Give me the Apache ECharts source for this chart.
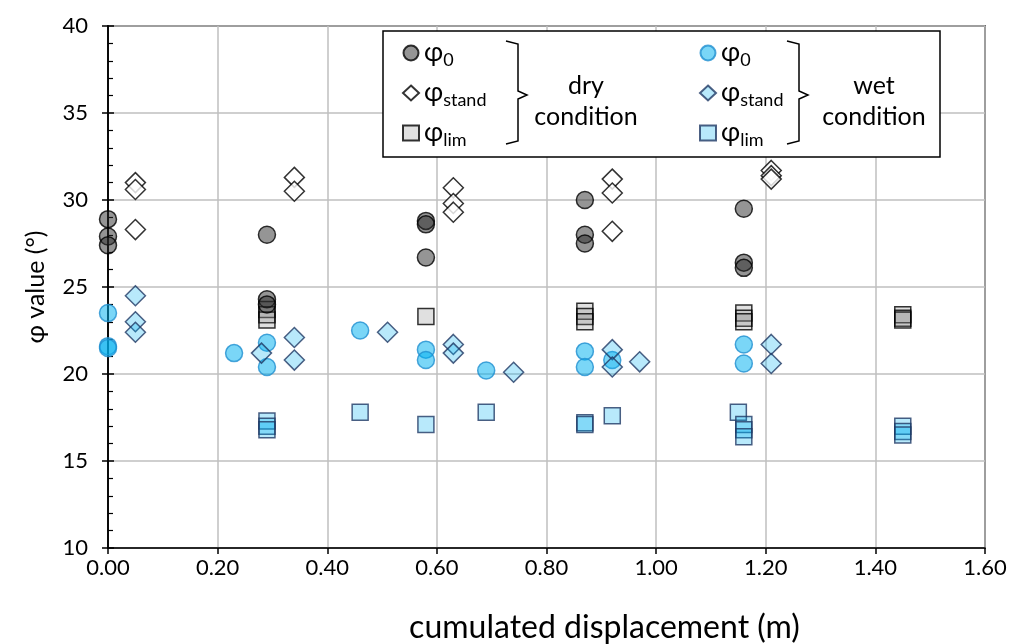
<!DOCTYPE html>
<html>
<head>
<meta charset="utf-8">
<script src="https://cdn.jsdelivr.net/npm/echarts@6/dist/echarts.min.js"></script>
<style>
  html, body { margin: 0; padding: 0; background: #fff; }
  #chart { width: 1013px; height: 644px; }
</style>
</head>
<body>
<div id="chart"></div>
<script>
// [displacement (m), φ (°)]
var dryPhi0 = [[0, 28.9], [0, 27.9], [0, 27.4], [0.29, 28.0], [0.29, 24.3], [0.29, 24.0],
  [0.58, 28.8], [0.58, 28.6], [0.58, 26.7], [0.87, 30.0], [0.87, 28.0], [0.87, 27.5],
  [1.16, 29.5], [1.16, 26.4], [1.16, 26.1]];
var dryStand = [[0.05, 31.0], [0.05, 30.6], [0.05, 28.3], [0.34, 31.3], [0.34, 30.5],
  [0.63, 30.7], [0.63, 29.8], [0.63, 29.3], [0.92, 31.2], [0.92, 30.4], [0.92, 28.2],
  [1.21, 31.7], [1.21, 31.4], [1.21, 31.2]];
var dryLim = [[0.29, 23.7], [0.29, 23.4], [0.29, 23.1], [0.58, 23.3], [0.87, 23.6],
  [0.87, 23.3], [0.87, 23.0], [1.16, 23.5], [1.16, 23.2], [1.16, 23.0], [1.45, 23.4],
  [1.45, 23.2], [1.45, 23.1]];
var wetPhi0 = [[0, 23.5], [0, 21.6], [0, 21.5], [0.23, 21.2], [0.29, 21.8], [0.29, 20.4],
  [0.46, 22.5], [0.58, 21.4], [0.58, 20.8], [0.69, 20.2], [0.87, 21.3], [0.87, 20.4],
  [0.92, 20.8], [1.16, 21.7], [1.16, 20.6]];
var wetStand = [[0.05, 24.5], [0.05, 23.0], [0.05, 22.4], [0.28, 21.2], [0.34, 22.1],
  [0.34, 20.8], [0.51, 22.4], [0.63, 21.7], [0.63, 21.2], [0.74, 20.1], [0.92, 21.4],
  [0.92, 20.4], [0.97, 20.7], [1.21, 21.7], [1.21, 20.6]];
var wetLim = [[0.29, 17.3], [0.29, 17.0], [0.29, 16.8], [0.46, 17.8], [0.58, 17.1],
  [0.69, 17.8], [0.87, 17.2], [0.87, 17.1], [0.92, 17.6], [1.15, 17.8], [1.16, 17.1],
  [1.16, 16.8], [1.16, 16.4], [1.45, 17.0], [1.45, 16.7], [1.45, 16.5]];

var subs = { dryPhi0: '0', dryStand: 'stand', dryLim: 'lim', wetPhi0: '0', wetStand: 'stand', wetLim: 'lim' };
var FONT = 'Lato, "Open Sans", sans-serif';

var myChart = echarts.init(document.getElementById('chart'));

function sc(name, data, symbol, size, fill, border, z) {
  return {
    name: name,
    type: 'scatter',
    data: data,
    symbol: symbol,
    symbolSize: size,
    z: z,
    itemStyle: { color: fill, borderColor: border, borderWidth: 1.5 }
  };
}

function legendFmt(name) {
  return '{a|φ}{b|' + subs[name] + '}';
}
var legendRich = {
  a: { fontSize: 26, fontFamily: FONT, color: '#000', lineHeight: 32, verticalAlign: 'middle' },
  b: { fontSize: 18, fontFamily: FONT, color: '#000', lineHeight: 15, verticalAlign: 'bottom' }
};

function bracket(x, y0, y1, ym, w) {
  return {
    type: 'polyline',
    shape: { points: [[x, y0], [x + w, y0 + 3], [x + w, ym - 4], [x + w + 9, ym], [x + w, ym + 4], [x + w, y1 - 3], [x, y1]] },
    style: { stroke: '#000', lineWidth: 1.5, fill: null },
    z: 20
  };
}

var option = {
  backgroundColor: '#fff',
  animation: false,
  textStyle: { fontFamily: FONT },
  grid: { left: 108, right: 28, top: 26, bottom: 96, outerBoundsMode: 'none', show: true, borderColor: '#000', borderWidth: 1.5, backgroundColor: 'transparent' },
  xAxis: [{
    type: 'value', min: 0, max: 1.6, interval: 0.2,
    name: 'cumulated displacement (m)', nameLocation: 'middle', nameGap: 64,
    nameTextStyle: { fontSize: 32, color: '#000', fontFamily: FONT, padding: [0, 0, 0, 116] },
    axisLine: { lineStyle: { color: '#000', width: 1.5 } },
    axisTick: { show: true, length: 6, lineStyle: { color: '#000', width: 1.5 } },
    axisLabel: { fontSize: 22, color: '#000', margin: 9, formatter: function (v) { return v.toFixed(2); } },
    splitLine: { show: true, lineStyle: { color: '#bfbfbf', width: 1.5 } }
  }],
  yAxis: [{
    type: 'value', min: 10, max: 40, interval: 5, position: 'left',
    name: 'φ value (°)', nameLocation: 'middle', nameGap: 60, nameRotate: 90,
    nameTextStyle: { fontSize: 25, color: '#000', fontFamily: FONT },
    axisLine: { show: true, lineStyle: { color: '#000', width: 1.5 } },
    axisTick: { show: true, length: 6, lineStyle: { color: '#000', width: 1.5 } },
    axisLabel: { fontSize: 22, color: '#000', margin: 20 },
    splitLine: { show: true, lineStyle: { color: '#bfbfbf', width: 1.5 } }
  }, {
    type: 'value', min: 10, max: 40, interval: 5, position: 'left', offset: 0,
    axisLine: { show: true, lineStyle: { color: '#000', width: 1.5 } },
    axisTick: { show: true, inside: true, length: 6, lineStyle: { color: '#000', width: 1.5 } },
    minorTick: { show: true, splitNumber: 5, length: 5, lineStyle: { color: '#000', width: 1.2 } },
    axisLabel: { show: false },
    splitLine: { show: false }
  }],
  legend: [{
    orient: 'vertical', left: 397, top: 35, itemGap: 11, itemWidth: 16, itemHeight: 15,
    data: ['dryPhi0', 'dryStand', 'dryLim'],
    formatter: legendFmt, textStyle: { rich: legendRich }, selectedMode: false
  }, {
    orient: 'vertical', left: 694, top: 35, itemGap: 11, itemWidth: 16, itemHeight: 15,
    data: ['wetPhi0', 'wetStand', 'wetLim'],
    formatter: legendFmt, textStyle: { rich: legendRich }, selectedMode: false
  }],
  graphic: [
    { type: 'rect', shape: { x: 383, y: 31, width: 557, height: 126 }, style: { fill: '#fff', stroke: '#000', lineWidth: 1.5 }, z: 10 },
    bracket(506, 41, 144, 95, 12),
    bracket(787, 41, 144, 95, 12),
    { type: 'text', style: { text: 'dry', x: 586, y: 86, align: 'center', verticalAlign: 'middle', fontSize: 25, fontFamily: FONT, fill: '#000' }, z: 20 },
    { type: 'text', style: { text: 'condition', x: 586, y: 117, align: 'center', verticalAlign: 'middle', fontSize: 25, fontFamily: FONT, fill: '#000' }, z: 20 },
    { type: 'text', style: { text: 'wet', x: 874, y: 86, align: 'center', verticalAlign: 'middle', fontSize: 25, fontFamily: FONT, fill: '#000' }, z: 20 },
    { type: 'text', style: { text: 'condition', x: 874, y: 117, align: 'center', verticalAlign: 'middle', fontSize: 25, fontFamily: FONT, fill: '#000' }, z: 20 }
  ],
  series: [
    sc('dryLim', dryLim, 'rect', 16, 'rgba(128,128,128,0.3)', '#000', 2),
    sc('wetLim', wetLim, 'rect', 16, 'rgba(0,176,240,0.35)', '#1f3864', 2),
    sc('dryPhi0', dryPhi0, 'circle', 17, 'rgba(40,40,40,0.62)', '#000', 3),
    sc('wetPhi0', wetPhi0, 'circle', 17, 'rgba(0,176,240,0.65)', '#1f8fd0', 3),
    sc('dryStand', dryStand, 'diamond', 20, '#fff', '#000', 4),
    sc('wetStand', wetStand, 'diamond', 20, 'rgba(0,176,240,0.35)', '#1f3864', 4)
  ]
};
option.legend.forEach(function (l) { l.z = 30; });

myChart.setOption(option);
</script>
</body>
</html>
